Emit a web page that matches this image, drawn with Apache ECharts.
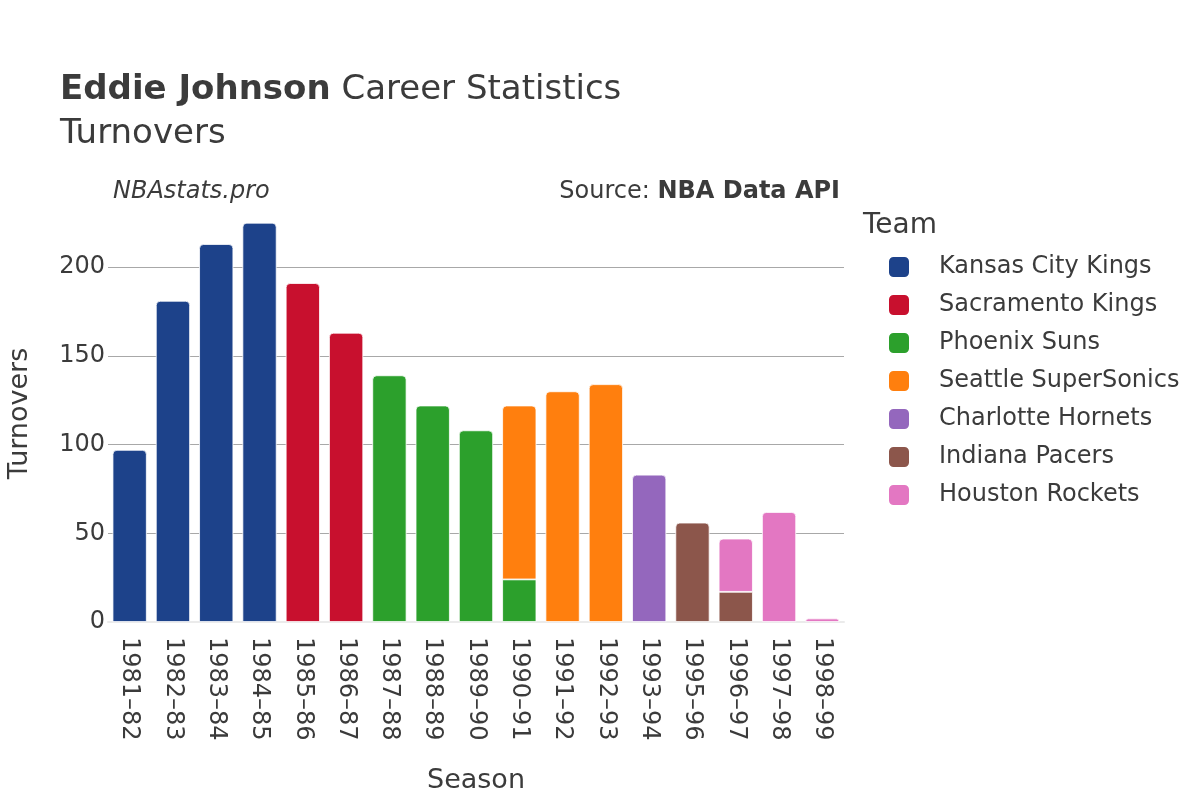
<!DOCTYPE html>
<html>
<head>
<meta charset="utf-8">
<script src="https://cdn.jsdelivr.net/npm/echarts@6/dist/echarts.min.js"></script>
<style>html,body{margin:0;padding:0;background:#fff}#c{width:1200px;height:800px}</style>
</head>
<body>
<div id="c"></div>
<script>
const seasons = ['1981–82','1982–83','1983–84','1984–85','1985–86','1986–87','1987–88','1988–89','1989–90','1990–91','1991–92','1992–93','1993–94','1995–96','1996–97','1997–98','1998–99'];
const teams = ['Kansas City Kings','Sacramento Kings','Phoenix Suns','Seattle SuperSonics','Charlotte Hornets','Indiana Pacers','Houston Rockets'];
const kansasCityKings   = [97,181,213,225,null,null,null,null,null,null,null,null,null,null,null,null,null];
const sacramentoKings   = [null,null,null,null,191,163,null,null,null,null,null,null,null,null,null,null,null];
const phoenixSuns       = [null,null,null,null,null,null,139,122,108,24,null,null,null,null,null,null,null];
const seattleSuperSonics= [null,null,null,null,null,null,null,null,null,98,130,134,null,null,null,null,null];
const charlotteHornets  = [null,null,null,null,null,null,null,null,null,null,null,null,83,null,null,null,null];
const indianaPacers     = [null,null,null,null,null,null,null,null,null,null,null,null,null,56,17,null,null];
const houstonRockets    = [null,null,null,null,null,null,null,null,null,null,null,null,null,null,30,62,2];
const yTicks = [0,50,100,150,200];

const teamValues = [kansasCityKings,sacramentoKings,phoenixSuns,seattleSuperSonics,charlotteHornets,indianaPacers,houstonRockets];
const colors = ['#1d428a','#c8102e','#2ca02c','#ff7f0e','#9467bd','#8c564b','#e377c2'];
const FONT = 'DejaVu Sans';
const TXT = '#3b3b3b';

const series = teams.map((name, si) => ({
  name: name,
  type: 'bar',
  stack: 'total',
  barCategoryGap: '21%',
  itemStyle: { color: colors[si], borderColor: '#ffffff', borderWidth: 0.8 },
  data: teamValues[si].map((v, i) => {
    if (v == null) return '-';
    let above = false;
    for (let k = si + 1; k < teamValues.length; k++) if (teamValues[k][i] != null) above = true;
    return { value: v, itemStyle: { borderRadius: above ? 0 : [4,4,0,0] } };
  })
}));

const chart = echarts.init(document.getElementById('c'));
chart.setOption({
  animation: false,
  backgroundColor: '#ffffff',
  textStyle: { fontFamily: FONT, color: TXT },
  grid: { left: 108, right: 356, top: 205, bottom: 178, containLabel: false, outerBoundsMode: 'none' },
  legend: {
    orient: 'vertical',
    left: 887, top: 255,
    itemWidth: 22, itemHeight: 22, itemGap: 14,
    icon: 'roundRect',
    padding: 0,
    textStyle: { fontFamily: FONT, fontSize: 24, lineHeight: 22, color: TXT, padding: [0,0,0,24] },
    data: teams
  },
  xAxis: {
    type: 'category',
    data: seasons,
    axisTick: { show: false },
    axisLine: { show: true, lineStyle: { color: '#ebebeb', width: 2 } },
    axisLabel: { rotate: -90, fontSize: 24, color: TXT, fontFamily: FONT, margin: 15 },
    name: 'Season', nameLocation: 'middle', nameGap: 145,
    nameTextStyle: { fontSize: 27, color: TXT, fontFamily: FONT }
  },
  yAxis: {
    type: 'value',
    min: 0, max: 235, interval: 50,
    axisLine: { show: false }, axisTick: { show: false },
    axisLabel: { fontSize: 24, color: TXT, fontFamily: FONT, margin: 3, showMaxLabel: false,
      formatter: v => yTicks.includes(v) ? String(v) : '' },
    splitLine: { lineStyle: { color: '#a8a8a8', width: 1 }, showMinLine: false, showMaxLine: false },
    name: 'Turnovers', nameLocation: 'middle', nameGap: 75,
    nameTextStyle: { fontSize: 27, color: TXT, fontFamily: FONT }
  },
  graphic: [
    { type: 'text', left: 60, top: 73, style: { text: '{b|Eddie Johnson} Career Statistics', fill: TXT,
        rich: { b: { fontWeight: 'bold', fontSize: 34, fontFamily: FONT, fill: TXT } }, fontSize: 34, fontFamily: FONT } },
    { type: 'text', left: 60, top: 117, style: { text: 'Turnovers', fontSize: 34, fontFamily: FONT, fill: TXT } },
    { type: 'text', left: 113, top: 180, style: { text: 'NBAstats.pro', fontSize: 24, fontStyle: 'italic', fontFamily: FONT, fill: TXT } },
    { type: 'text', right: 360, top: 180, style: { text: 'Source: {b|NBA Data API}', fontSize: 24, fontFamily: FONT, fill: TXT,
        rich: { b: { fontWeight: 'bold', fontSize: 24, fontFamily: FONT, fill: TXT } } } },
    { type: 'text', left: 863, top: 212, style: { text: 'Team', fontSize: 28, fontFamily: FONT, fill: TXT } }
  ],
  series: series
});
</script>
</body>
</html>
